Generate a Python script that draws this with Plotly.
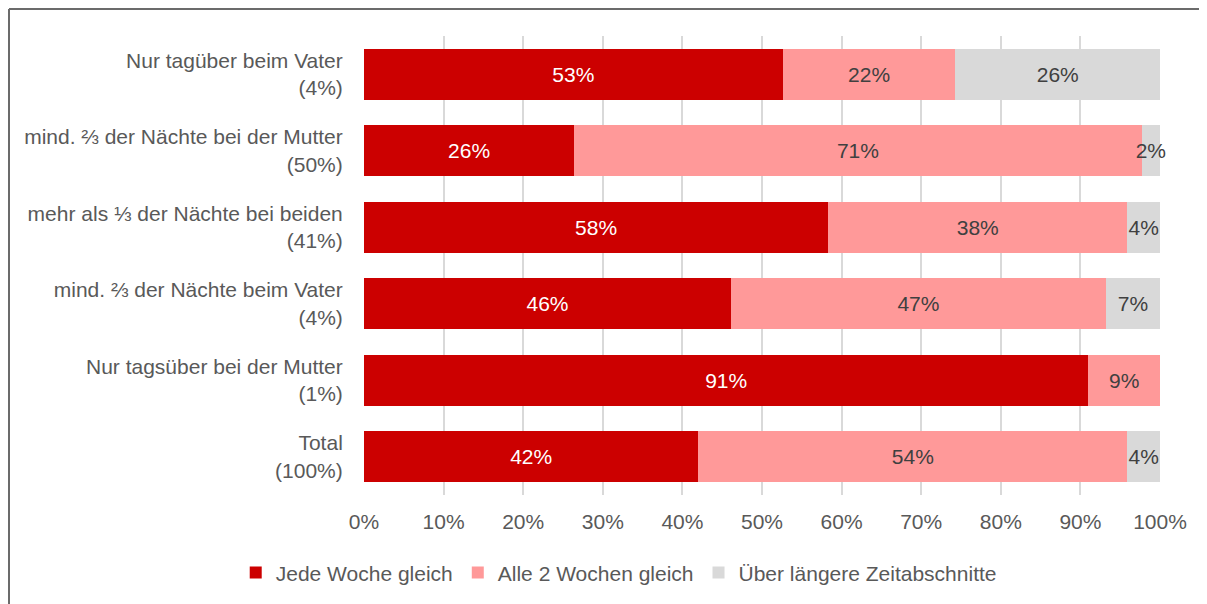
import plotly.graph_objects as go

# categories, top to bottom as in the chart
categories = [
    "Nur tagüber beim Vater<br>(4%)",
    "mind. ⅔ der Nächte bei der Mutter<br>(50%)",
    "mehr als ⅓ der Nächte bei beiden<br>(41%)",
    "mind. ⅔ der Nächte beim Vater<br>(4%)",
    "Nur tagsüber bei der Mutter<br>(1%)",
    "Total<br>(100%)",
]

jede_woche = [52.6, 26.4, 58.3, 46.1, 91.0, 42.0]
alle_2_wochen = [21.7, 71.3, 37.6, 47.1, 9.0, 53.9]
laengere = [25.7, 2.3, 4.1, 6.8, 0.0, 4.1]

series = [
    ("Jede Woche gleich", jede_woche, "#CC0000", "white"),
    ("Alle 2 Wochen gleich", alle_2_wochen, "#FF9999", "#404040"),
    ("Über längere Zeitabschnitte", laengere, "#D9D9D9", "#404040"),
]

FONT = "Liberation Sans, Arial, sans-serif"
FS = 21

# page has an 8px body margin, so the figure is offset by that
L, T, W, H = 356, 28, 796, 459

fig = go.Figure()
for name, vals, color, tcol in series:
    labels = [f"{v:.0f}%" if v > 0 else "" for v in vals]
    fig.add_trace(go.Bar(
        y=categories, x=vals, name=name, orientation="h",
        marker=dict(color=color, line=dict(width=0)),
        text=labels, textposition="inside", insidetextanchor="middle",
        textangle=0, constraintext="none", cliponaxis=False,
        textfont=dict(color=tcol, size=FS, family=FONT),
        hoverinfo="skip",
    ))

# outer frame of the chart (top and left edges visible)
fx0 = (1 - L) / W
fy0 = 1 + (T - 1) / H
fig.add_shape(type="line", xref="paper", yref="paper",
              x0=fx0, x1=(1215 - L) / W, y0=fy0, y1=fy0,
              line=dict(color="#6b6b6b", width=2))
fig.add_shape(type="line", xref="paper", yref="paper",
              x0=fx0, x1=fx0, y0=fy0, y1=-(604 - T - H) / H,
              line=dict(color="#6b6b6b", width=2))

fig.update_layout(
    barmode="stack",
    bargap=0.33,
    width=1207, height=604,
    margin=dict(l=L, r=1207 - L - W, t=T, b=604 - T - H),
    plot_bgcolor="white", paper_bgcolor="white",
    font=dict(family=FONT, size=FS, color="#595959"),
    showlegend=True,
    legend=dict(orientation="h", x=0.32, xanchor="center", y=-0.125, yanchor="top",
                font=dict(size=FS, color="#595959"), itemwidth=30,
                traceorder="normal"),
    xaxis=dict(range=[0, 100], dtick=10, ticksuffix="%", showgrid=True,
               gridcolor="#D9D9D9", gridwidth=2, zeroline=False,
               showline=False, tickfont=dict(size=FS, color="#595959"),
               ticks="", ticklabelstandoff=12),
    yaxis=dict(autorange="reversed", showgrid=False, showline=False,
               tickfont=dict(size=FS, color="#595959"), ticks="outside",
               ticklen=16, tickcolor="white"),
)

fig.write_html("out.html")
